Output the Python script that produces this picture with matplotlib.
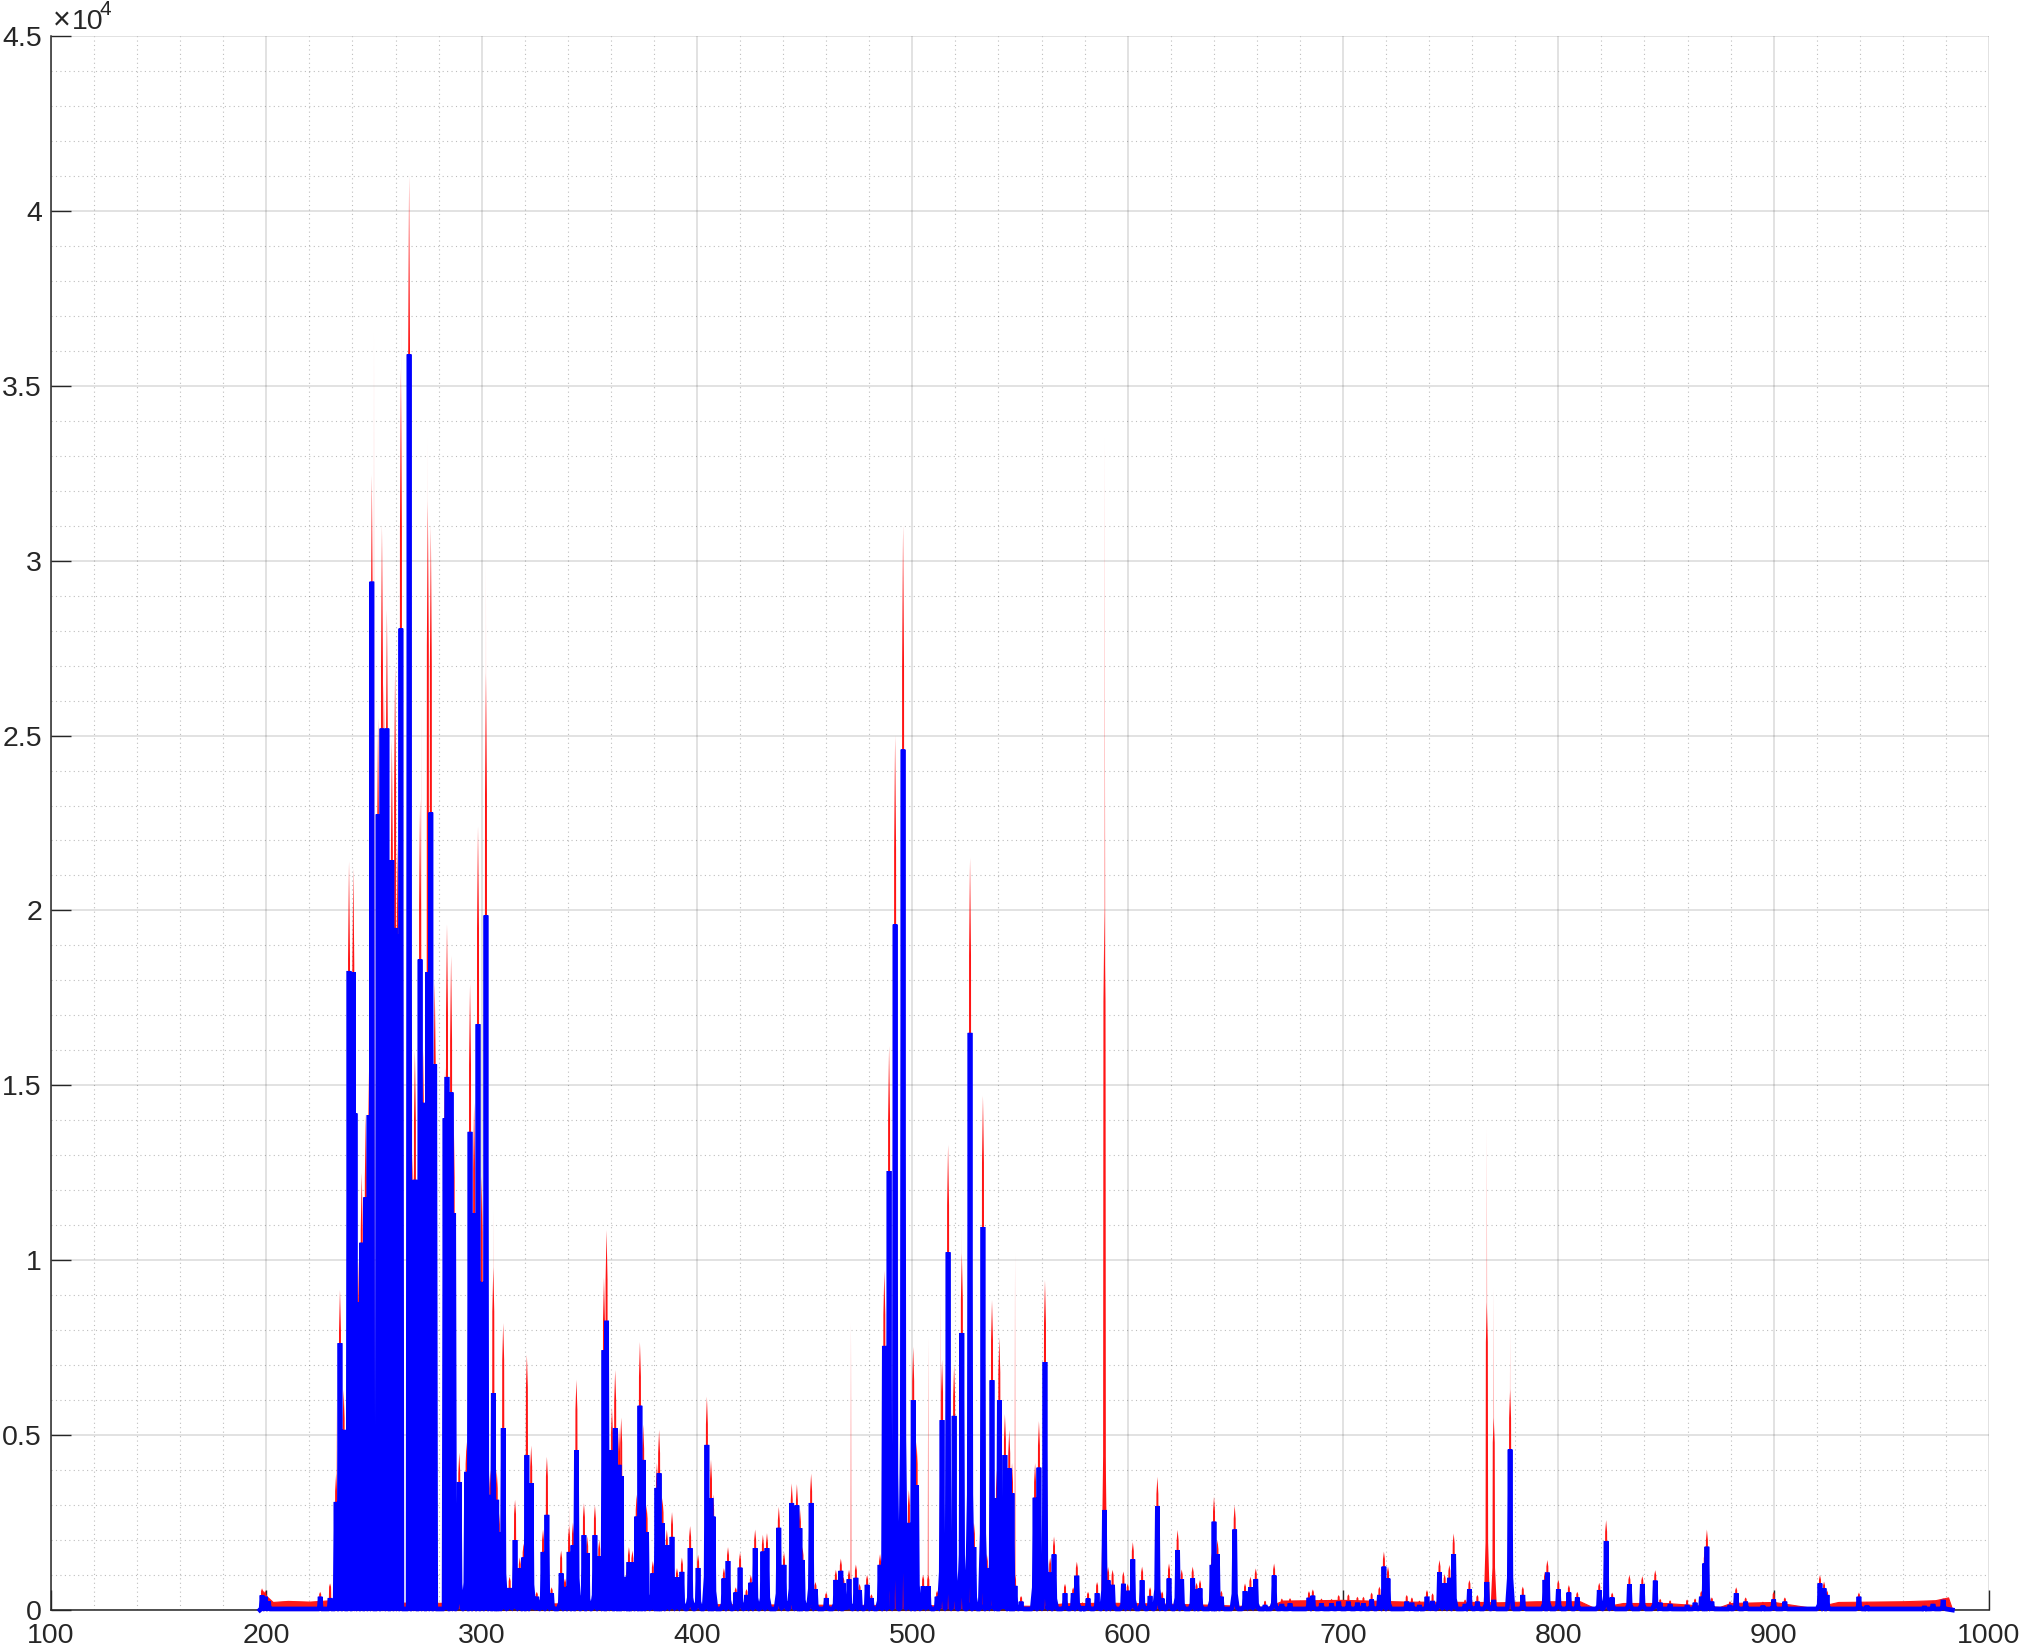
import matplotlib
matplotlib.use("Agg")
import matplotlib.pyplot as plt
import numpy as np

plt.rcParams['font.family'] = ['Liberation Sans', 'DejaVu Sans']

INK = '#262626'

# Peak table: m/z, blue peak height, red peak height
peak_mz = [198, 199.5, 201, 225, 229.6, 232.4, 234.2, 235.9, 238.4, 240.4, 241.2, 242.6, 244.3, 246.2, 247.7,
           249, 251.9, 253.7, 254.6, 256, 258.3, 259.8, 261, 262.5, 266.3, 268, 269, 271.4, 272.8, 275, 276.4,
           278.2, 283, 283.9, 285.8, 287, 289.6, 293, 294.6, 296.5, 298.3, 300, 302, 304, 305.4, 307, 308, 310,
           313, 315.5, 317.7, 319.5, 321, 323, 325.6, 328.5, 330.3, 332.5, 336.9, 338.7, 340.6, 342.4, 344,
           347.5, 349, 352.6, 354.6, 356.8, 358, 360.5, 362, 363.8, 364.8, 367.5, 368.4, 370, 372, 373.5, 375,
           376.6, 379.5, 381.4, 382.4, 384, 386, 388.4, 390.7, 393, 396.8, 400.5, 404.6, 406.5, 407.5, 412.5,
           414.4, 418, 420, 423, 425, 427, 430.6, 432.5, 438, 440.4, 444, 446.4, 447.8, 449, 453, 455, 460, 464.5,
           466.8, 468, 470.6, 473.8, 475.5, 479, 481, 485, 487, 489.2, 492, 495.7, 498.4, 500.4, 502, 505, 507.4,
           511.5, 513.8, 516.6, 519.4, 523, 526.8, 528.6, 532.8, 534.6, 537, 539.3, 540.4, 543, 545, 546.3, 547.7,
           550.5, 557, 558.8, 561.6, 564, 565.8, 570.9, 574.7, 576.4, 579, 581.6, 585.8, 589.2, 590.9, 593, 598,
           600, 602.4, 606.7, 610.4, 613.8, 616, 619.2, 623.2, 625.1, 630.2, 632, 633.6, 639.2, 640.1, 641.7,
           643.5, 649.7, 654.5, 657, 659.5, 663.8, 668, 671.6, 675.4, 684.2, 686, 690, 694.7, 698, 702.5, 706.7,
           709.5, 713.3, 716.9, 719, 720.9, 729.6, 732, 735.5, 739, 741.6, 744.8, 747.2, 749.4, 751.4, 756.7,
           758.7, 762.4, 766.8, 770, 777.6, 783.5, 793.8, 794.9, 800, 804.9, 808.8, 819, 822.2, 825, 833, 839, 845,
           847.3, 851.9, 859.8, 863.5, 866.4, 868, 869, 871.3, 879.7, 882.6, 887, 895, 900, 905.2, 921.5, 923.4,
           924.8, 939.6, 943.3, 970, 974, 978.7]
blue_int = [420, 380, 250, 380, 340, 3090, 7630, 5150, 18270, 18240, 14200, 8800, 10500, 11800, 14150,
            29400, 22750, 25200, 20000, 25200, 21440, 19500, 19300, 28060, 35900, 12200, 12300, 18600, 14500, 18240, 22800,
            15600, 14060, 15240, 14800, 11350, 3660, 3950, 13670, 11350, 16750, 9380, 19860, 3290, 6200, 3150, 2230, 5200,
            630, 2000, 1200, 1500, 4430, 3630, 380, 1660, 2720, 480, 1050, 660, 1660, 1850, 4570,
            2140, 1630, 2140, 1530, 7430, 8270, 4570, 5200, 4150, 3830, 950, 1370, 1370, 2670, 5840, 4290,
            2230, 1050, 3490, 3910, 2480, 1850, 2090, 930, 1090, 1770, 1200, 4720, 3200, 2670, 900,
            1400, 500, 1210, 430, 780, 1770, 1670, 1770, 2350, 1290, 3060, 2990, 2340, 1430, 3060, 590, 340, 860,
            1120, 760, 880, 920, 570, 720, 340, 1290, 7550, 12550, 19600, 24600, 2490, 6000, 3570, 680, 680,
            380, 5430, 10230, 5550, 7920, 16500, 1800, 10950, 1200, 6570, 3200, 6000, 4430, 4050, 3340, 690,
            240, 3210, 4070, 7090, 1070, 1590, 480, 480, 980, 100, 330, 480, 2860, 850, 720, 750,
            550, 1450, 850, 400, 2970, 330, 900, 1715, 880, 905, 590, 620, 1290, 2525, 1600,
            380, 2300, 540, 650, 880, 140, 990, 170, 190, 350, 410, 190, 190, 240, 240, 210,
            190, 300, 430, 1240, 900, 240, 210, 140, 380, 260, 1080, 760, 920, 1600, 170,
            590, 240, 800, 290, 4590, 430, 860, 1070, 590, 500, 360, 570, 1970, 360, 740, 740, 840,
            210, 170, 140, 210, 380, 1330, 1810, 240, 140, 480, 240, 125, 300, 240, 760, 620,
            430, 380, 125, 110, 170, 290]
red_int = [620, 560, 350, 520, 760, 3900, 9150, 6300, 21400, 21200, 15000, 10000, 12500, 14200, 15500,
           32450, 25500, 31000, 26500, 28600, 24900, 27000, 22000, 35500, 41000, 13000, 16000, 23150, 16000, 31700, 31000,
           18000, 15500, 19600, 18700, 14200, 4500, 4800, 17900, 14500, 22400, 12400, 26800, 4000, 9800, 4000, 2800, 8200,
           950, 3150, 1500, 1900, 7300, 4700, 520, 2300, 4380, 650, 1700, 900, 2400, 2500, 6580,
           3050, 2100, 3000, 2000, 9500, 10860, 5800, 6860, 5200, 5500, 1200, 1800, 1700, 3300, 7660, 5300,
           3000, 1400, 4200, 5150, 3200, 2300, 2800, 1200, 1500, 2400, 1580, 6100, 4300, 3300, 1200,
           1800, 650, 1650, 600, 1000, 2300, 2150, 2200, 2950, 1650, 3620, 3600, 2900, 1800, 3900, 800, 500, 1150,
           1470, 950, 1150, 1300, 750, 1000, 450, 1600, 9700, 16120, 25000, 31000, 3430, 7520, 4800, 1000, 1000,
           550, 7150, 13300, 7000, 10200, 21500, 2500, 14700, 1600, 8860, 4000, 7800, 5600, 5150, 4200, 1000,
           400, 4200, 5400, 9430, 1500, 2100, 750, 650, 1380, 220, 520, 800, 20000, 1230, 1150, 1100,
           750, 1940, 1240, 650, 3810, 530, 1330, 2290, 1160, 1240, 780, 860, 1650, 3240, 2000,
           550, 3000, 760, 950, 1190, 270, 1330, 330, 340, 540, 590, 330, 320, 430, 450, 380,
           380, 500, 670, 1670, 1240, 430, 360, 270, 570, 480, 1430, 1030, 1290, 2190, 300,
           860, 430, 8800, 5500, 6300, 670, 1100, 1430, 860, 715, 520, 780, 2570, 500, 1000, 970, 1140,
           320, 280, 300, 330, 550, 1700, 2300, 360, 250, 650, 360, 240, 520, 360, 1000, 810,
           560, 500, 230, 200, 270, 340]

# Very pale tall spikes
faint_mz = [232.5, 250, 262.6, 272, 275, 302, 305.4, 340.6, 471.5, 507.4, 513, 523, 547.7, 589.2, 589.6, 766.8, 770, 777.6]
faint_top = [6000, 36500, 37000, 26000, 33500, 30000, 11500, 3000, 8200, 7800, 9000, 11000, 10200, 33500, 24000, 13800, 9200, 8000]

# Low red band under the peaks
band_mz = [197, 198, 200, 203, 210, 220, 230, 233, 560, 570, 590, 610, 640, 665, 672, 700, 730, 765, 772, 790, 810, 817,
           830, 850, 875, 880, 900, 918, 930, 960, 975, 981, 983]
band_int = [0, 560, 400, 230, 260, 240, 280, 220, 120, 190, 210, 190, 150, 90, 270, 290, 240, 230, 220, 250, 250, 50,
            200, 200, 90, 200, 230, 60, 230, 250, 280, 360, 0]

x_major = list(range(100, 1001, 100))
x_minor = list(range(100, 1001, 20))
y_major = [0, 5000, 10000, 15000, 20000, 25000, 30000, 35000, 40000, 45000]
y_minor = list(range(0, 45001, 1000))
y_labels = ['0', '0.5', '1', '1.5', '2', '2.5', '3', '3.5', '4', '4.5']

W, H = 2020, 1651
fig = plt.figure(figsize=(W / 100, H / 100), dpi=100)
ax = fig.add_axes([51 / W, 1 - 1610 / H, (1989 - 51) / W, (1610 - 36) / H])
ax.set_xlim(100, 1000)
ax.set_ylim(0, 45000)
ax.set_axisbelow(True)

ax.set_xticks(x_major)
ax.set_yticks(y_major)
ax.set_yticklabels(y_labels)
ax.set_xticks(x_minor, minor=True)
ax.set_yticks(y_minor, minor=True)
ax.grid(True, which='major', color='#262626', alpha=0.17, lw=1.1)
ax.grid(True, which='minor', color='#262626', alpha=0.3, lw=0.8, linestyle=(0, (1, 3)))
ax.tick_params(which='major', direction='in', length=14.4, width=1.0, color=INK, labelcolor=INK, labelsize=20.5,
               top=False, right=False)
ax.tick_params(axis='x', which='major', pad=9.5)
ax.tick_params(axis='y', which='major', pad=6.5)
ax.tick_params(which='minor', length=0)
for s in ('top', 'right'):
    ax.spines[s].set_visible(False)
for s in ('left', 'bottom'):
    ax.spines[s].set_color(INK)
    ax.spines[s].set_linewidth(1.1)

# red band
ax.fill_between(band_mz, 0, band_int, color='#ff1a1a', lw=0.8, zorder=2, clip_on=False)

# pale spikes
for m, t in zip(faint_mz, faint_top):
    ax.fill([m - 0.35, m, m + 0.35], [0, t, 0], color='#ff3030', alpha=0.6, lw=0, zorder=2.1)

# red spikes: flared feet once the peaks stand apart
for m, r in zip(peak_mz, red_int):
    foot = 1.5 if m >= 288 else 0.6
    ax.fill([m - foot, m - 0.6, m - 0.45, m, m + 0.45, m + 0.6, m + foot],
            [0, 0.22 * r, 0.87 * r, r, 0.87 * r, 0.22 * r, 0], color='#ff1414', lw=0, zorder=2.2)

# blue trace: one stroked line through every peak
bx, by = [197], [0]
for m, b in zip(peak_mz, blue_int):
    foot = 1.3 if m >= 288 else 0.45
    bx += [m - foot, m - 0.35, m, m + 0.35, m + foot]
    by += [30, 0.2 * b, b, 0.2 * b, 30]
bx.append(983)
by.append(0)
ax.plot(bx, by, color='#0000ff', lw=3.4, solid_joinstyle='bevel', zorder=3, clip_on=False)

# exponent label
ax.text(53 / W, 1 - 29 / H, '\u00d7', transform=fig.transFigure, fontsize=22, color=INK, va='baseline', ha='left')
ax.text(72 / W, 1 - 29 / H, '10', transform=fig.transFigure, fontsize=20.5, color=INK, va='baseline', ha='left')
ax.text(100 / W, 1 - 15 / H, '4', transform=fig.transFigure, fontsize=15, color=INK, va='baseline', ha='left')

fig.savefig('out.png', dpi=100)
